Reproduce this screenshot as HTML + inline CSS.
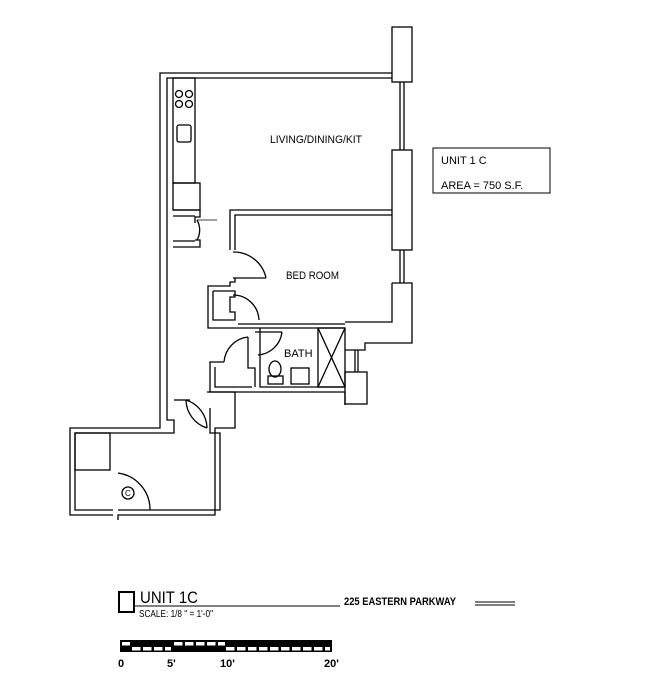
<!DOCTYPE html>
<html><head><style>
html,body{margin:0;padding:0;background:#fff;}
svg{display:block;}
text{font-family:"Liberation Sans",sans-serif;fill:#000;}
</style></head><body>
<svg width="649" height="679" viewBox="0 0 649 679" xmlns="http://www.w3.org/2000/svg">
<g fill="none" stroke="#000" stroke-width="1.3">
<polyline points="392,73 160,73 160,428 70,428 70,515 113,515"/>
<polyline points="392,78 167,78 167,420 174,420 174,433 75,433 75,510 113,510"/>
<rect x="392" y="27" width="20" height="55"/>
<rect x="392" y="150" width="20" height="100"/>
<polyline points="392,283 412,283 412,343 365,343 365,350 345,350"/>
<polyline points="392,283 392,322 345,322"/>
<line x1="400" y1="82" x2="400" y2="150"/><line x1="404" y1="82" x2="404" y2="150"/>
<line x1="400" y1="250" x2="400" y2="283"/><line x1="404" y1="250" x2="404" y2="283"/>
<rect x="173" y="78" width="22" height="105"/>
<circle cx="179" cy="94" r="3.5"/><circle cx="189" cy="94" r="3.5"/>
<circle cx="179" cy="104" r="3.5"/><circle cx="189" cy="104" r="3.5"/>
<rect x="177" y="125" width="14" height="17" rx="2"/>
<rect x="173" y="183" width="27" height="27"/>
<polyline points="173,210 200,210 200,217 195,217 195,223"/>
<polyline points="173,247 200,247 200,240 195,240"/>
<line x1="173" y1="216" x2="195" y2="216"/><line x1="173" y1="241" x2="195" y2="241"/>
<path d="M197,220 A20,20 0 0 1 197,240"/>
<line x1="197" y1="220" x2="217" y2="220" stroke-width="0.8"/>
<polyline points="392,210 230,210 230,250"/>
<polyline points="392,215 235,215 235,250"/>
<path d="M233,252 A33,33 0 0 1 266,278"/>
<line x1="233" y1="278" x2="266" y2="278"/>
<polyline points="235,278 235,282 230,282 230,286 208,286 208,328 345,328"/>
<polyline points="213,291 235,291 235,297 230,297 230,312 235,312 235,320 213,320 213,291"/>
<path d="M233,295 A26,26 0 0 1 259,320"/>
<polyline points="238,324 345,324"/>
<rect x="318" y="328" width="27" height="59"/>
<line x1="318" y1="328" x2="345" y2="387"/><line x1="345" y1="328" x2="318" y2="387"/>
<polyline points="260,328 260,387 345,387"/>
<polyline points="255,332 282,332"/>
<path d="M282,332 A26,26 0 0 1 258,355"/>
<path d="M248,337 A27,27 0 0 0 224,362"/>
<polyline points="248,337 248,368 255,368 255,387"/>
<polyline points="210,362 224,362 210,362 210,392 345,392 345,405"/>
<polyline points="215,367 215,387 252,387"/>
<ellipse cx="275" cy="369" rx="6" ry="8"/>
<rect x="268" y="376" width="15" height="8"/>
<rect x="291" y="368" width="18" height="16"/>
<rect x="345" y="372" width="22" height="32"/>
<line x1="355" y1="350" x2="355" y2="372"/><line x1="358" y1="350" x2="358" y2="372"/>
<polyline points="174,400 190,400"/>
<polyline points="207,392 235,392 235,428 215,428 215,515 118,515 118,520"/>
<polyline points="210,408 210,433 220,433 220,510 118,510"/>
<path d="M186,400 A30,30 0 0 1 207,428"/>
<path d="M186,400 A30,30 0 0 0 207,428"/>
<rect x="75" y="433" width="35" height="37"/>
<path d="M118,473 A37,37 0 0 1 150,510"/>
<circle cx="128" cy="493" r="6"/>
<rect x="433" y="148" width="117" height="45" stroke-width="1"/>
<rect x="119" y="592" width="15" height="20" stroke-width="2"/>
<line x1="134" y1="606" x2="340" y2="606" stroke-width="1"/>
<line x1="475" y1="602" x2="515" y2="602" stroke-width="1"/>
<line x1="475" y1="605" x2="515" y2="605" stroke-width="1"/>
</g>
<text x="270" y="143" font-size="11" textLength="92" lengthAdjust="spacingAndGlyphs">LIVING/DINING/KIT</text>
<text x="286" y="279" font-size="11" textLength="53" lengthAdjust="spacingAndGlyphs">BED ROOM</text>
<text x="284" y="357" font-size="11">BATH</text>
<text x="125" y="496" font-size="8">C</text>
<text x="441" y="164" font-size="11">UNIT 1 C</text>
<text x="441" y="189" font-size="11">AREA = 750 S.F.</text>
<text x="140" y="603" font-size="17" textLength="58" lengthAdjust="spacingAndGlyphs">UNIT 1C</text>
<text x="139" y="617" font-size="10" textLength="74" lengthAdjust="spacingAndGlyphs">SCALE: 1/8 " = 1'-0"</text>
<text x="344" y="605" font-size="11" font-weight="bold" textLength="112" lengthAdjust="spacingAndGlyphs">225 EASTERN PARKWAY</text>
<rect x="120" y="640" width="212" height="12" fill="#000"/>
<g fill="#fff">
<rect x="122" y="642" width="8" height="3.5"/>
<rect x="174" y="642" width="8.5" height="3.5"/><rect x="185" y="642" width="8.5" height="3.5"/><rect x="196" y="642" width="8.5" height="3.5"/><rect x="207" y="642" width="8.5" height="3.5"/><rect x="218" y="642" width="7" height="3.5"/>
<rect x="132" y="647" width="8.5" height="3.5"/><rect x="143" y="647" width="8.5" height="3.5"/><rect x="154" y="647" width="8.5" height="3.5"/><rect x="165" y="647" width="6" height="3.5"/>
<rect x="226" y="647" width="8.5" height="3.5"/><rect x="237" y="647" width="8.5" height="3.5"/><rect x="248" y="647" width="8.5" height="3.5"/><rect x="259" y="647" width="8.5" height="3.5"/><rect x="270" y="647" width="8.5" height="3.5"/><rect x="281" y="647" width="8.5" height="3.5"/><rect x="292" y="647" width="8.5" height="3.5"/><rect x="303" y="647" width="8.5" height="3.5"/><rect x="314" y="647" width="8.5" height="3.5"/><rect x="325" y="647" width="5" height="3.5"/>
</g>
<text x="118" y="667" font-size="11" font-weight="bold">0</text>
<text x="167" y="667" font-size="11" font-weight="bold">5'</text>
<text x="220" y="667" font-size="11" font-weight="bold">10'</text>
<text x="324" y="667" font-size="11" font-weight="bold">20'</text>
</svg>
</body></html>
